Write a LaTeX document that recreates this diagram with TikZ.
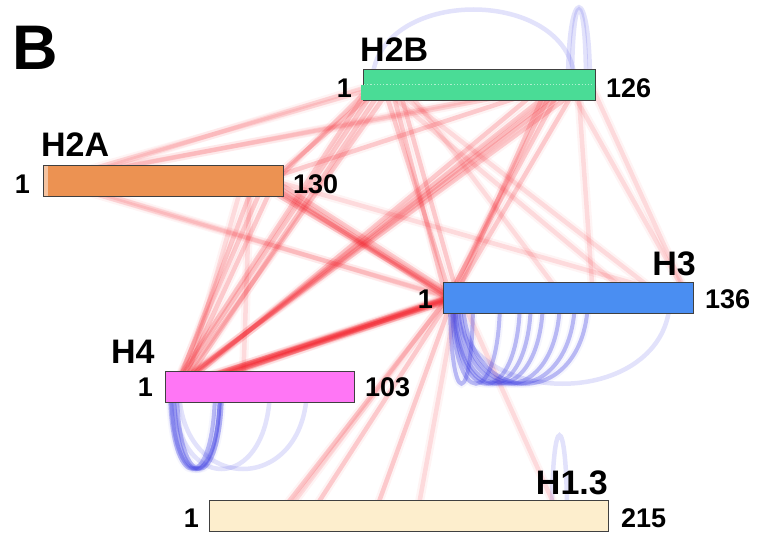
\documentclass[tikz,border=0pt]{standalone}
\usepackage{fontspec}
\setmainfont{Liberation Sans}
\usetikzlibrary{calc}
\pgfdeclarelayer{links}
\pgfsetlayers{links,main}

\definecolor{h2bgreen}{RGB}{74,220,150}
\definecolor{h2aorange}{RGB}{236,146,82}
\definecolor{h3blue}{RGB}{74,142,242}
\definecolor{h4pink}{RGB}{255,118,245}
\definecolor{h13cream}{RGB}{253,238,205}
\definecolor{xlred}{RGB}{242,30,40}
\definecolor{loopblue}{RGB}{60,60,225}

\tikzset{
  bar/.style={draw=black!75, line width=0.7pt, inner sep=0pt, outer sep=0pt,
    anchor=north west, minimum height=31pt},
  inter/.style={draw=xlred, line width=4.5pt, draw opacity=0.2,
    preaction={draw=xlred, line width=9pt, draw opacity=0.05}},
  faint/.style={inter, draw opacity=0.12},
  intra/.style={draw=loopblue, line width=4pt, draw opacity=0.33,
    preaction={draw=loopblue, line width=8pt, draw opacity=0.05}},
  intralight/.style={draw=loopblue, line width=4.5pt, draw opacity=0.15},
  lbl/.style={font=\bfseries\fontsize{34}{40}\selectfont, inner sep=0pt},
  num/.style={font=\bfseries\fontsize{27}{32}\selectfont, inner sep=0pt},
}

\begin{document}
\begin{tikzpicture}[x=1pt,y=-1pt]
\useasboundingbox (0,0) rectangle (769,535);

% protein bars
\node[bar, fill=h2bgreen,  minimum width=232pt] (h2b) at (363,69)  {};
\node[bar, fill=h2aorange, minimum width=240pt] (h2a) at (43,165)  {};
\node[bar, fill=h3blue,    minimum width=250pt] (h3)  at (443,282) {};
\node[bar, fill=h4pink,    minimum width=189pt] (h4)  at (165,371) {};
\node[bar, fill=h13cream,  minimum width=399pt] (h13) at (209,500) {};

% small details on the H2B and H2A bars
\fill[h2bgreen] ($(h2b.south west)+(-2,-15)$) rectangle ($(h2b.south west)+(0.5,0)$);
\draw[white, opacity=0.55, line width=1.2pt, dotted] ($(h2b.west)+(1,0)$) -- ($(h2b.east)+(-1,0)$);
\fill[h2aorange!55!white] ($(h2a.north west)+(0.5,0.5)$) rectangle ($(h2a.south west)+(5,-0.5)$);

% labels
\node[font=\bfseries\fontsize{63}{70}\selectfont, inner sep=0pt, anchor=base west] (panel) at (12,70) {B};
\node[lbl, anchor=base west] (h2bname) at (360,62)  {H2B};
\node[lbl, anchor=base west] (h2aname) at (41,157)  {H2A};
\node[lbl, anchor=base east] (h3name)  at (696,275) {H3};
\node[lbl, anchor=base west] (h4name)  at (111,363) {H4};
\node[lbl, anchor=base east] (h13name) at (608,494) {H1.3};

\node[num, anchor=base east] (h2bs) at (352,97)  {1};
\node[num, anchor=base west] (h2be) at (606,97)  {126};
\node[num, anchor=base east] (h2as) at (30,193)  {1};
\node[num, anchor=base west] (h2ae) at (293,193) {130};
\node[num, anchor=base east] (h3s)  at (433,308) {1};
\node[num, anchor=base west] (h3e)  at (705,308) {136};
\node[num, anchor=base east] (h4s)  at (153,396) {1};
\node[num, anchor=base west] (h4e)  at (365,396) {103};
\node[num, anchor=base east] (h13s) at (199,527) {1};
\node[num, anchor=base west] (h13e) at (621,527) {215};

\begin{pgfonlayer}{links}
% inter-protein crosslinks (offsets along each bar)
\foreach \a/\i/\b/\j in {
  h4/10/h2b/212, h4/13/h2b/197, h4/17/h2b/182, h4/8/h2b/222, h4/12/h2b/205,
  h4/10/h2b/15, h4/14/h2b/30, h4/8/h2b/8, h4/18/h2b/22,
  h4/12/h3/8, h4/16/h3/12, h4/20/h3/5, h4/9/h3/15, h4/25/h3/10, h4/14/h3/3,
  h4/30/h3/6, h4/22/h3/18,
  h4/10/h2a/222, h4/15/h2a/232, h4/12/h2a/212,
  h2a/215/h3/10, h2a/225/h3/6, h2a/232/h3/14, h2a/220/h3/3, h2a/210/h3/8,
  h2a/228/h2b/20, h2a/220/h2b/195, h2a/233/h2b/10,
  h3/8/h2b/20, h3/12/h2b/185, h3/5/h2b/200, h3/15/h2b/35, h3/10/h2b/215,
  h3/6/h2b/192, h3/3/h2b/28,
  h3/5/h13/69, h3/8/h13/101, h3/10/h13/165
}
  \draw[inter] ($(\a.west)+(\i,0)$) -- ($(\b.west)+(\j,0)$);
\foreach \a/\i/\b/\j in {
  h2a/8/h2b/25, h2a/12/h2b/190, h2a/5/h2b/205, h2a/20/h2b/12,
  h2a/6/h3/8, h2a/15/h3/4,
  h2a/207/h4/78, h2a/200/h4/20,
  h3/14/h13/208, h3/18/h13/350, h3/4/h13/75,
  h2b/228/h3/245, h2b/205/h3/245, h2a/230/h3/240, h2b/215/h3/150,
  h2b/25/h3/220, h2b/15/h3/190, h2b/40/h3/120
}
  \draw[faint] ($(\a.west)+(\i,0)$) -- ($(\b.west)+(\j,0)$);

% intra-protein crosslinks (loops)
\foreach \i/\j in {9/57, 10/77, 12/100, 15/117, 17/132, 20/145, 7/30, 11/88}
  \draw[intra] ($(h3.west)+(\i,0)$) .. controls +(0,115) and +(0,115) .. ($(h3.west)+(\j,0)$);
\draw[intralight] ($(h3.west)+(12,0)$) .. controls +(0,115) and +(0,115) .. ($(h3.west)+(227,0)$);

\foreach \i/\j in {6/55, 9/55, 12/57, 5/50}
  \draw[intra] ($(h4.west)+(\i,0)$) .. controls +(0,110) and +(0,110) .. ($(h4.west)+(\j,0)$);
\draw[intralight] ($(h4.west)+(8,0)$) .. controls +(0,110) and +(0,110) .. ($(h4.west)+(105,0)$);
\draw[intralight] ($(h4.west)+(14,0)$) .. controls +(0,110) and +(0,110) .. ($(h4.west)+(142,0)$);

\draw[intralight] ($(h2b.west)+(9,0)$) .. controls +(0,-100) and +(0,-100) .. ($(h2b.west)+(212,0)$);
\draw[intralight] ($(h2b.west)+(205,0)$) .. controls +(0,-103) and +(0,-103) .. ($(h2b.west)+(227,0)$);
\draw[intralight] ($(h2b.west)+(209,0)$) .. controls +(0,-100) and +(0,-100) .. ($(h2b.west)+(223,0)$);

\draw[intralight] ($(h13.west)+(343,0)$) .. controls +(0,-107) and +(0,-107) .. ($(h13.west)+(358,0)$);
\end{pgfonlayer}
\end{tikzpicture}
\end{document}
